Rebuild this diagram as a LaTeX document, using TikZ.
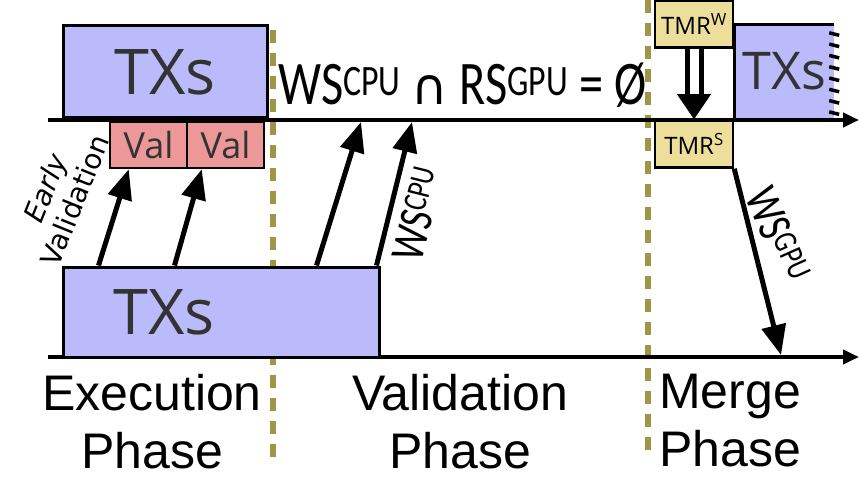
\documentclass[tikz,border=0pt]{standalone}
\usepackage{fontspec}
\setmainfont{Open Sans}
\newfontfamily\formulafont[FakeStretch=0.78]{Carlito}
\newfontfamily\capfont{DejaVu Sans}
\newfontfamily\phasefont{Liberation Sans}
\usetikzlibrary{arrows.meta,calc}

\definecolor{txblue}{RGB}{187,187,252}
\definecolor{valred}{RGB}{236,152,152}
\definecolor{tmrsand}{RGB}{238,222,156}
\definecolor{phaseolive}{RGB}{158,150,70}
\definecolor{boxtext}{RGB}{51,51,51}

\tikzset{
    txbox/.style={draw=black,line width=3pt,fill=txblue,text=boxtext,inner sep=0pt,
        font=\fontsize{63}{70}\selectfont},
    valbox/.style={draw=black,line width=2.5pt,fill=valred,text=boxtext,inner sep=0pt,
        minimum width=77pt,minimum height=46pt,font=\fontsize{36}{40}\selectfont},
    tmrbox/.style={draw=black,line width=2.5pt,fill=tmrsand,inner sep=0pt,
        minimum width=78pt,minimum height=47pt,font=\fontsize{24}{26}\selectfont},
    bigarrow/.style={line width=5pt,-{Triangle[length=30pt,width=24pt]}},
    timeline/.style={line width=4pt,-{Triangle[length=16pt,width=14pt]}},
    phaseline/.style={phaseolive,line width=6pt,dash pattern=on 13pt off 10pt},
    phaselabel/.style={align=center,inner sep=0pt,font=\phasefont\fontsize{50}{58}\selectfont}
}

\begin{document}
\begin{tikzpicture}[x=1pt,y=-1pt,line cap=butt,line join=miter]
    \useasboundingbox (0,0) rectangle (859,484);

    % phase borders
    \draw[phaseline] (273,30) -- (273,460);
    \draw[phaseline] (648,0) -- (648,458);

    % time lines
    \coordinate (topstart) at (48,120);
    \coordinate (topend) at (859,120);
    \coordinate (botstart) at (48,357);
    \coordinate (botend) at (859,357);
    \draw[timeline] (topstart) -- (topend);
    \draw[timeline] (botstart) -- (botend);

    % transactions
    \node[txbox,minimum width=204pt,minimum height=92pt] (txtop) at (165,72) {TXs};
    \node[txbox,minimum width=316pt,minimum height=90pt] (txbot) at (221,312) {};
    \node[text=boxtext,font=\fontsize{63}{70}\selectfont] (txbotlabel) at (164,312) {TXs};

    \fill[txblue] (735,25) rectangle (834,118);
    \node[text=boxtext,font=\fontsize{52}{60}\selectfont,minimum width=99pt,minimum height=93pt]
        (txright) at (784.5,71.5) {TXs};
    \draw[line width=3pt] (txright.north east) -- (txright.north west) -- (txright.south west);
    \foreach \k in {0,...,7}
        \draw[line width=3.5pt] ($(txright.north east)+(-5,8+11.3*\k)$) -- ++(10,2.5);

    % early validation
    \node[valbox] (val1) at (148.5,145) {Val};
    \node[valbox] (val2) at (225.5,145) {Val};

    % merge
    \node[tmrbox] (tmrw) at (694,24) {TMR\textsuperscript{W}};
    \node[tmrbox] (tmrs) at (694,144) {TMR\textsuperscript{S}};

    % conflict condition
    \node[font=\formulafont\fontsize{62}{70}\selectfont,anchor=base west,inner sep=0pt]
        (cond) at (278,105)
        {WS\textsuperscript{CPU} {\capfont\fontsize{50}{60}\selectfont ∩} RS\textsuperscript{GPU} = Ø};

    % arrows
    \coordinate (wscpua) at (361,122);
    \coordinate (wscpub) at (412,122);
    \coordinate (wsgpu) at (781,355);
    \draw[bigarrow] ($(txbot.north west)+(37,0)$) -- ($(val1.south west)+(20,0)$);
    \draw[bigarrow] ($(txbot.north west)+(113,0)$) -- ($(val2.south west)+(16,0)$);
    \draw[bigarrow] ($(txbot.north west)+(255,0)$) -- (wscpua);
    \draw[bigarrow] ($(txbot.north east)+(-4,0)$) -- (wscpub);
    \draw[bigarrow] (tmrs.south east) -- (wsgpu);

    \draw[line width=5pt,double=white,double distance=9pt,shorten >=24pt] (tmrw.south) -- (tmrs.north);
    \fill (tmrs.north) -- ++(-17,-25) -- ++(34,0) -- cycle;

    % arrow labels
    \node[align=center,rotate=68,font=\capfont\fontsize{28}{32}\selectfont] (early) at (60,194)
        {\itshape Early\\Validation};
    \node[rotate=76,font=\formulafont\fontsize{48}{50}\selectfont] (wscpulabel) at (418,214)
        {WS\textsuperscript{CPU}};
    \node[rotate=-66,font=\formulafont\fontsize{48}{50}\selectfont] (wsgpulabel) at (778,235)
        {WS\textsuperscript{GPU}};

    % phases
    \node[phaselabel,anchor=north] (execphase) at (152,374) {Execution\\Phase};
    \node[phaselabel,anchor=north] (valphase) at (460,374) {Validation\\Phase};
    \node[phaselabel,anchor=north] (mergephase) at (730,374) {Merge\\Phase};
\end{tikzpicture}
\end{document}
